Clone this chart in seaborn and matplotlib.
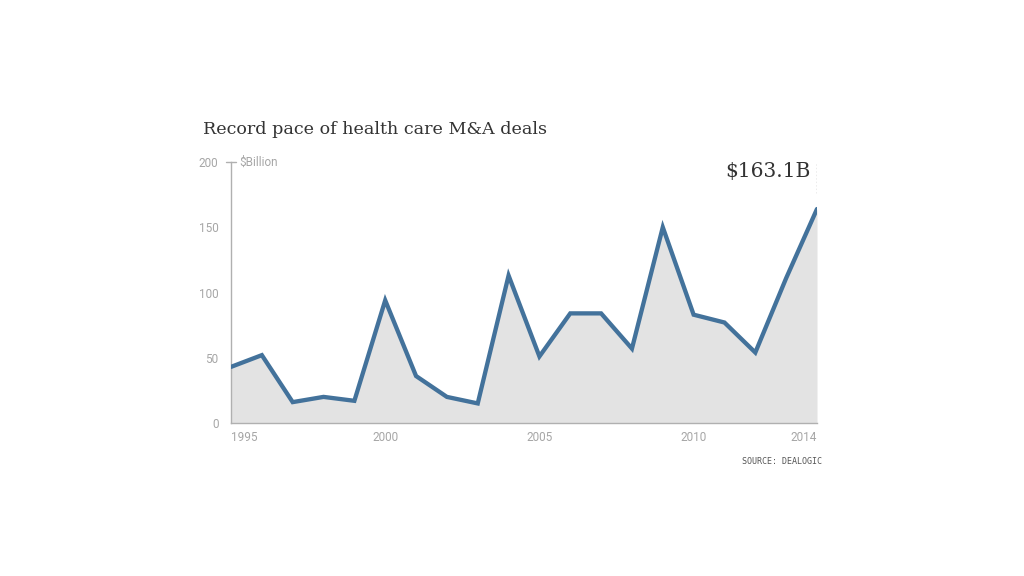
import matplotlib
matplotlib.use("Agg")
import matplotlib.pyplot as plt
import numpy as np
import pandas as pd
import seaborn as sns

# values ($ billion)
years = list(range(1995, 2015))
deals = [43, 52, 16, 20, 17, 94, 36, 20, 15, 113,
         51, 84, 84, 57, 150, 83, 77, 54, 111, 164]
xtick_years = [1995, 2000, 2005, 2010, 2014]
ytick_vals = [0, 50, 100, 150, 200]

df = pd.DataFrame({'year': years, 'deals': deals})

sns.set_style("white")
narrow = ['Liberation Sans Narrow', 'Roboto', 'DejaVu Sans']
serif = ['DejaVu Serif', 'Liberation Serif']

line_col = '#43729b'
fill_col = '#e3e3e3'
grey = '#a6a6a6'

fig = plt.figure(figsize=(10.24, 5.76), dpi=100)
ax = fig.add_axes([231/1024, 1-423/576, (817-231)/1024, (423-162)/576])

ax.fill_between(df['year'], df['deals'], 0, color=fill_col, lw=0, zorder=1)
sns.lineplot(data=df, x='year', y='deals', ax=ax, color=line_col, lw=3.1,
             zorder=3, solid_joinstyle='miter')

ax.set_xlim(1995, 2014)
ax.set_ylim(0, 200)
ax.set_xlabel('')
ax.set_ylabel('')

for s in ['top', 'right']:
    ax.spines[s].set_visible(False)
for s in ['left', 'bottom']:
    ax.spines[s].set_color('#b0b0b0')
    ax.spines[s].set_linewidth(1)

ax.set_yticks(ytick_vals)
ax.set_yticklabels([str(v) for v in ytick_vals], family=narrow, fontsize=8.5, color=grey)
ax.tick_params(axis='y', length=0, pad=9)
ax.set_xticks(xtick_years)
labs = ax.set_xticklabels([str(v) for v in xtick_years], family=narrow, fontsize=8.5, color=grey)
labs[0].set_ha('left')
labs[-1].set_ha('right')
ax.tick_params(axis='x', length=0, pad=6)

# small tick crossing the axis at 200
ax.plot([1994.85, 1995.15], [200, 200], color='#b0b0b0', lw=1, clip_on=False)
ax.text(1995.28, 200, '$Billion', family=narrow, fontsize=8.5, color=grey, va='center', ha='left')

# dotted guide and callout for the last value
ax.plot([2014, 2014], [deals[-1] + 12, 200], color='#999999', lw=1, ls=(0, (1, 1.5)), zorder=2)
ax.text(2013.78, 193, '$163.1B', family=serif, fontsize=14.5, color='#333333', ha='right', va='center')

fig.text(203/1024, 1-130/576, 'Record pace of health care M&A deals', family=serif,
         fontsize=12.6, color='#333333', ha='left', va='center')
fig.text(822/1024, 1-462/576, 'SOURCE: DEALOGIC', family='DejaVu Sans Mono',
         fontsize=6, color='#555555', ha='right', va='center')

fig.savefig('out.png', dpi=100)
